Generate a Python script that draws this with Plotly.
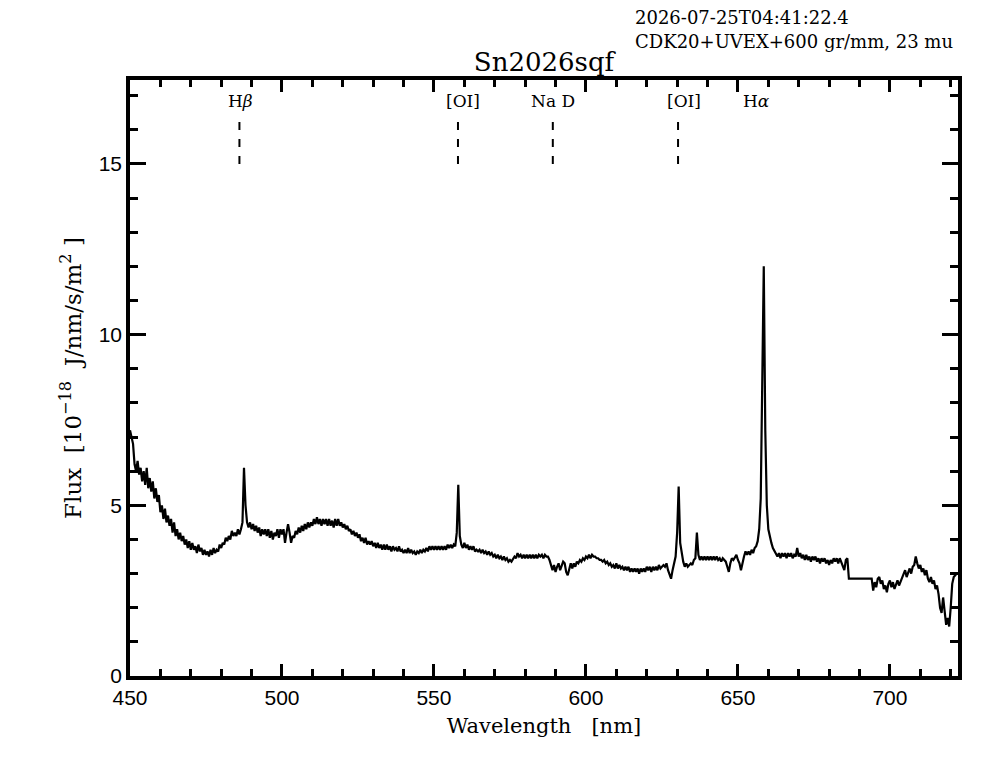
import plotly.graph_objects as go

# ---- spectrum data ----
# flux sampled every 0.5 nm; each block covers 5 nm starting at block_start
block_start = [450 + 5 * k for k in range(55)]
flux_blocks = [
    [7.2, 7.0, 6.8, 6.2, 6.0, 6.3, 5.9, 6.1, 5.7, 6.0],        # 450
    [5.6, 6.1, 5.5, 5.8, 5.4, 5.7, 5.2, 5.5, 5.1, 5.3],        # 455
    [4.8, 5.0, 4.6, 4.9, 4.5, 4.7, 4.4, 4.6, 4.2, 4.5],        # 460
    [4.1, 4.3, 4.0, 4.2, 3.95, 4.1, 3.85, 4.0, 3.75, 3.95],    # 465
    [3.7, 3.9, 3.7, 3.8, 3.6, 3.85, 3.65, 3.75, 3.55, 3.7],    # 470
    [3.55, 3.65, 3.5, 3.7, 3.55, 3.75, 3.6, 3.7, 3.65, 3.85],  # 475
    [3.75, 3.9, 3.85, 4.05, 3.95, 4.1, 4.0, 4.25, 4.1, 4.2],   # 480
    [4.1, 4.3, 4.15, 4.3, 4.5, 6.1, 5.0, 4.5, 4.35, 4.5],      # 485
    [4.3, 4.45, 4.25, 4.4, 4.2, 4.35, 4.1, 4.3, 4.15, 4.3],    # 490
    [4.1, 4.3, 4.05, 4.25, 4.0, 4.2, 4.1, 4.3, 4.05, 4.3],     # 495
    [4.15, 4.3, 3.9, 4.2, 4.45, 4.2, 3.9, 4.1, 4.05, 4.25],    # 500
    [4.15, 4.35, 4.2, 4.4, 4.25, 4.45, 4.3, 4.5, 4.35, 4.5],   # 505
    [4.4, 4.6, 4.45, 4.65, 4.45, 4.6, 4.4, 4.6, 4.45, 4.6],    # 510
    [4.4, 4.6, 4.4, 4.55, 4.35, 4.6, 4.4, 4.6, 4.4, 4.5],      # 515
    [4.35, 4.45, 4.3, 4.4, 4.25, 4.3, 4.15, 4.25, 4.1, 4.2],   # 520
    [4.05, 4.15, 3.95, 4.05, 3.9, 4.05, 3.85, 3.95, 3.85, 3.95],  # 525
    [3.8, 3.9, 3.75, 3.9, 3.75, 3.85, 3.7, 3.85, 3.7, 3.85],   # 530
    [3.7, 3.8, 3.65, 3.8, 3.7, 3.75, 3.65, 3.8, 3.65, 3.7],    # 535
    [3.6, 3.7, 3.6, 3.75, 3.6, 3.7, 3.6, 3.65, 3.55, 3.65],    # 540
    [3.6, 3.7, 3.6, 3.7, 3.65, 3.75, 3.65, 3.8, 3.7, 3.8],     # 545
    [3.7, 3.8, 3.7, 3.8, 3.7, 3.8, 3.7, 3.8, 3.7, 3.85],       # 550
    [3.75, 3.85, 3.75, 3.85, 3.8, 4.2, 5.6, 4.1, 3.85, 3.75],  # 555
    [3.9, 3.75, 3.85, 3.7, 3.8, 3.7, 3.8, 3.65, 3.7, 3.65],    # 560
    [3.7, 3.6, 3.7, 3.6, 3.65, 3.55, 3.65, 3.55, 3.6, 3.5],    # 565
    [3.55, 3.45, 3.55, 3.45, 3.5, 3.4, 3.5, 3.4, 3.45, 3.35],  # 570
    [3.4, 3.35, 3.45, 3.5, 3.45, 3.6, 3.5, 3.55, 3.45, 3.55],  # 575
    [3.45, 3.55, 3.45, 3.55, 3.45, 3.55, 3.45, 3.55, 3.45, 3.55],  # 580
    [3.5, 3.55, 3.45, 3.55, 3.5, 3.5, 3.4, 3.2, 3.1, 3.25],    # 585
    [3.05, 3.2, 3.3, 3.1, 3.2, 3.35, 3.3, 3.05, 2.95, 3.15],   # 590
    [3.3, 3.15, 3.3, 3.2, 3.35, 3.3, 3.4, 3.35, 3.45, 3.4],    # 595
    [3.5, 3.45, 3.55, 3.45, 3.55, 3.5, 3.5, 3.45, 3.45, 3.4],  # 600
    [3.4, 3.35, 3.4, 3.3, 3.35, 3.25, 3.3, 3.2, 3.25, 3.15],   # 605
    [3.3, 3.15, 3.25, 3.15, 3.2, 3.1, 3.2, 3.1, 3.2, 3.05],    # 610
    [3.15, 3.05, 3.15, 3.05, 3.15, 3.0, 3.15, 3.05, 3.15, 3.05],  # 615
    [3.2, 3.1, 3.2, 3.05, 3.2, 3.1, 3.2, 3.1, 3.25, 3.15],     # 620
    [3.2, 3.25, 3.2, 3.3, 3.1, 2.95, 2.85, 3.1, 3.3, 3.5],     # 625
    [4.2, 5.55, 3.9, 3.6, 3.35, 3.2, 3.3, 3.2, 3.25, 3.3],     # 630
    [3.25, 3.4, 3.45, 4.2, 3.55, 3.4, 3.5, 3.4, 3.5, 3.4],     # 635
    [3.5, 3.4, 3.5, 3.4, 3.5, 3.4, 3.5, 3.4, 3.45, 3.35],      # 640
    [3.45, 3.4, 3.35, 3.2, 3.05, 3.3, 3.45, 3.4, 3.5, 3.55],   # 645
    [3.4, 3.3, 3.1, 3.35, 3.5, 3.65, 3.55, 3.65, 3.55, 3.7],   # 650
    [3.6, 3.75, 3.8, 3.95, 4.3, 5.2, 8.6, 12.0, 7.2, 5.0],     # 655
    [4.3, 4.05, 3.9, 3.75, 3.65, 3.6, 3.5, 3.6, 3.45, 3.6],    # 660
    [3.5, 3.6, 3.45, 3.6, 3.5, 3.6, 3.45, 3.55, 3.5, 3.75],    # 665
    [3.5, 3.6, 3.45, 3.55, 3.4, 3.55, 3.4, 3.5, 3.35, 3.5],    # 670
    [3.4, 3.5, 3.35, 3.45, 3.3, 3.45, 3.35, 3.45, 3.3, 3.4],   # 675
    [3.25, 3.4, 3.3, 3.45, 3.35, 3.45, 3.3, 3.45, 3.35, 3.2],  # 680
    [3.1, 3.4, 3.45, 2.85, 2.85, 2.85, 2.85, 2.85, 2.85, 2.85],  # 685
    [2.85, 2.85, 2.85, 2.85, 2.85, 2.85, 2.85, 2.85, 2.85, 2.5],  # 690
    [2.75, 2.6, 2.85, 2.9, 2.7, 2.8, 2.55, 2.65, 2.45, 2.7],   # 695
    [2.8, 2.6, 2.75, 2.55, 2.7, 2.8, 2.65, 2.75, 2.85, 2.95],  # 700
    [3.1, 2.9, 3.05, 3.15, 3.0, 3.2, 3.25, 3.5, 3.3, 3.15],    # 705
    [3.25, 3.05, 3.15, 2.95, 3.1, 2.85, 2.75, 2.9, 2.7, 2.8],  # 710
    [2.55, 2.65, 2.4, 2.0, 1.85, 2.3, 1.9, 1.5, 1.7, 1.45],    # 715
    [2.0, 2.7, 2.9, 2.95, 3.0],                                # 720
]
step_nm = 0.5

wavelength = []
flux = []
for start, block in zip(block_start, flux_blocks):
    for j, v in enumerate(block):
        wavelength.append(start + step_nm * j)
        flux.append(v)

# ---- line identifications ----
line_names = ["H<i>\u03b2</i>", "[OI]", "Na D", "[OI]", "H<i>\u03b1</i>"]
line_wavelengths = [486.0, 557.9, 589.1, 630.3, 656.0]
label_offsets_nm = [0.5, 1.5, 0.0, 1.8, 0.0]
line_has_marker = [True, True, True, True, False]
marker_bottom = 15.0
marker_top = 16.4
label_y = 16.85

title_text = "Sn2026sqf"
info_lines = ["2026-07-25T04:41:22.4", "CDK20+UVEX+600 gr/mm, 23 mu"]

x_range = [450, 722.4]
y_range = [0, 17.46]

serif = "DejaVu Serif"
sans = "Liberation Sans"

# figure sized to fit inside the page body (8 px default body margin)
W, H = 998, 767
ML, MR, MT, MB = 122, 48, 72, 99
PW, PH = W - ML - MR, H - MT - MB


def px_to_paper_x(px):
    return (px - 8 - ML) / PW


def px_to_paper_y(py):
    return (H - MB - (py - 8)) / PH


fig = go.Figure()
fig.add_trace(go.Scatter(
    x=wavelength, y=flux, mode="lines",
    line=dict(color="black", width=2.2), showlegend=False,
    hoverinfo="skip",
))

for name, wl, off, has in zip(line_names, line_wavelengths, label_offsets_nm, line_has_marker):
    if has:
        fig.add_shape(type="line", xref="x", yref="y",
                      x0=wl, x1=wl, y0=marker_bottom, y1=marker_top,
                      line=dict(color="black", width=2, dash="8px,9px"))
    fig.add_annotation(x=wl + off, y=label_y, xref="x", yref="y", text=name,
                       showarrow=False, font=dict(family=serif, size=17, color="black"),
                       xanchor="center", yanchor="middle")

axis_common = dict(
    showline=True, linecolor="black", linewidth=3.5, mirror="allticks",
    ticks="inside", tickcolor="black", tickwidth=2.5,
    showgrid=False, zeroline=False,
    tickfont=dict(family=sans, size=21, color="black"),
)

fig.update_layout(
    width=W, height=H,
    margin=dict(l=ML, r=MR, t=MT, b=MB),
    paper_bgcolor="white", plot_bgcolor="white",
    title=dict(text=title_text, xref="container", x=(544 - 8) / W,
               xanchor="center", yref="container", y=1 - (62 - 8) / H, yanchor="middle",
               font=dict(family=serif, size=26, color="black")),
    xaxis=dict(range=x_range, tick0=450, dtick=50, ticklen=12,
               minor=dict(dtick=10, ticklen=7, tickwidth=2.5, tickcolor="black", ticks="inside"),
               title=dict(text="Wavelength\u00a0\u00a0\u00a0[nm]", standoff=11,
                          font=dict(family=serif, size=21, color="black")),
               **axis_common),
    yaxis=dict(range=y_range, tick0=0, dtick=5, ticklen=16,
               minor=dict(dtick=1, ticklen=8, tickwidth=2.5, tickcolor="black", ticks="inside"),
               title=dict(text="Flux\u00a0\u00a0[10<sup>\u221218</sup>\u00a0\u00a0J/nm/s/m<sup>2</sup>\u00a0]",
                          standoff=12, font=dict(family=serif, size=23, color="black")),
               **axis_common),
)

for i, t in enumerate(info_lines):
    fig.add_annotation(x=px_to_paper_x(633), y=px_to_paper_y(18 + 24 * i),
                       xref="paper", yref="paper",
                       text=t, showarrow=False, xanchor="left", yanchor="middle",
                       font=dict(family=serif, size=18, color="black"))

fig.write_html("out.html")
